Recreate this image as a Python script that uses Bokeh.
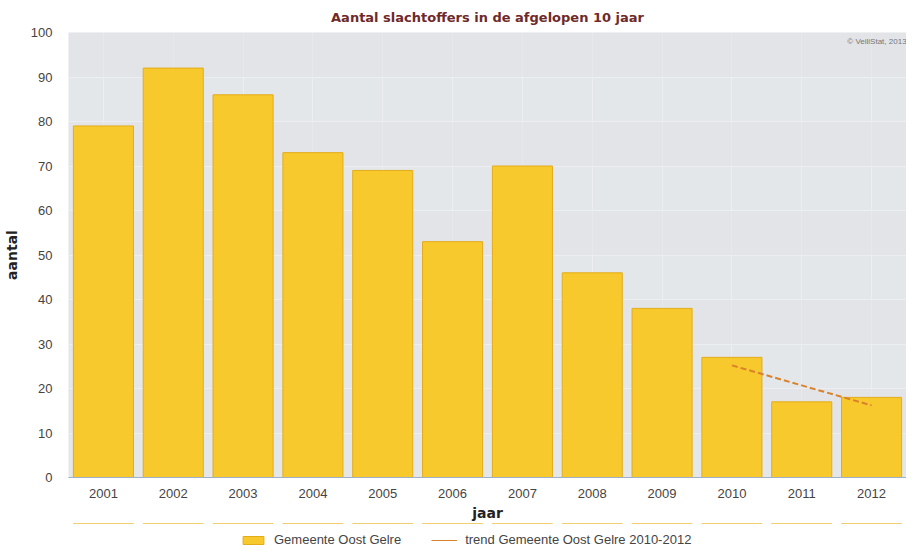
from bokeh.plotting import figure
from bokeh.layouts import column
from bokeh.models import ColumnDataSource, Legend, LegendItem, Range1d, SingleIntervalTicker
from bokeh.core.properties import value
from bokeh.embed import file_html
from bokeh.resources import INLINE

years = ["2001", "2002", "2003", "2004", "2005", "2006", "2007", "2008", "2009", "2010", "2011", "2012"]
counts = [79, 92, 86, 73, 69, 53, 70, 46, 38, 27, 17, 18]
trend_years = ["2010", "2011", "2012"]
trend_values = [25.2, 20.7, 16.2]

title_text = "Aantal slachtoffers in de afgelopen 10 jaar"
bar_label = "Gemeente Oost Gelre"
trend_label = "trend Gemeente Oost Gelre 2010-2012"
credit = "© VeiliStat, 2013"

BAR_FILL = "#f8c92c"
BAR_LINE = "#e3ac1a"
TREND_COLOR = "#d9822b"

src = ColumnDataSource(dict(x=years, y=counts))
tsrc = ColumnDataSource(dict(x=trend_years, y=trend_values))

p = figure(x_range=years, width=906, height=523,
           output_backend="svg", toolbar_location=None, title=title_text,
           min_border_left=60, min_border_right=0, min_border_top=0, min_border_bottom=0)
p.y_range = Range1d(0, 100)

p.title.align = "center"
p.title.text_font = "DejaVu Sans"
p.title.text_font_size = "13px"
p.title.text_font_style = "bold"
p.title.text_color = "#6e2a2a"
p.title.offset = 0
p.title.standoff = 15

p.background_fill_color = "#e4e7ea"
p.border_fill_color = "white"
p.outline_line_color = None

p.xgrid.grid_line_color = "#eceef1"
p.ygrid.grid_line_color = "#eceef1"
p.ygrid.band_fill_color = "#dfe2e6"
p.ygrid.band_fill_alpha = 0.5

p.vbar(x="x", top="y", width=0.86, source=src,
       fill_color=BAR_FILL, line_color=BAR_LINE, line_width=1)
p.line(x="x", y="y", source=tsrc, line_color=TREND_COLOR, line_width=2, line_dash="6 3")

p.yaxis.ticker = SingleIntervalTicker(interval=10)
p.yaxis.axis_line_color = None
p.yaxis.major_tick_line_color = None
p.yaxis.minor_tick_line_color = None
p.yaxis.major_label_text_font = "Liberation Sans"
p.yaxis.major_label_text_font_size = "13px"
p.yaxis.major_label_text_color = "#444444"
p.yaxis.major_label_standoff = 10
p.yaxis.axis_label = "aantal"
p.yaxis.axis_label_text_font = "DejaVu Sans"
p.yaxis.axis_label_text_font_style = "bold"
p.yaxis.axis_label_text_font_size = "14px"
p.yaxis.axis_label_text_color = "#222222"
p.yaxis.axis_label_standoff = 8

p.xaxis.axis_line_color = "#9fb0c8"
p.xaxis.major_tick_line_color = None
p.xaxis.minor_tick_line_color = None
p.xaxis.major_label_text_font = "Liberation Sans"
p.xaxis.major_label_text_font_size = "13px"
p.xaxis.major_label_text_color = "#444444"
p.xaxis.major_label_standoff = 5
p.xaxis.axis_label = "jaar"
p.xaxis.axis_label_text_font = "DejaVu Sans"
p.xaxis.axis_label_text_font_style = "bold"
p.xaxis.axis_label_text_font_size = "14px"
p.xaxis.axis_label_text_color = "#222222"
p.xaxis.axis_label_standoff = 4

p.text(x=["2012"], y=[100], text=[credit], x_offset=35, y_offset=4,
       text_align="right", text_baseline="top", text_font=value("Liberation Sans"),
       text_font_size="8px", text_color="#777777")

# legend strip below the chart; its renderers use the same data but fall far outside its view
lg = figure(x_range=years, y_range=Range1d(-100000, -99999), width=906, height=25,
            output_backend="svg", toolbar_location=None,
            min_border_left=60, min_border_right=0, min_border_top=0, min_border_bottom=0)
lg.axis.visible = False
lg.grid.visible = False
lg.outline_line_color = None
lg.background_fill_color = "white"
bar_proxy = lg.vbar(x="x", top="y", width=0.86, source=src,
                    fill_color=BAR_FILL, line_color=BAR_LINE)
line_proxy = lg.line(x="x", y="y", source=tsrc, line_color=TREND_COLOR, line_width=1)

legend = Legend(items=[LegendItem(label=bar_label, renderers=[bar_proxy]),
                       LegendItem(label=trend_label, renderers=[line_proxy])],
                orientation="horizontal", location=(172, 1),
                label_text_font="Liberation Sans", label_text_font_size="13px",
                label_text_color="#444444", glyph_width=26, glyph_height=10,
                label_height=12, padding=0, margin=0, spacing=30, label_standoff=8,
                border_line_color=None, background_fill_alpha=0)
lg.add_layout(legend, "center")

layout = column(p, lg, spacing=0)
open("out.html", "w").write(file_html(layout, INLINE))
